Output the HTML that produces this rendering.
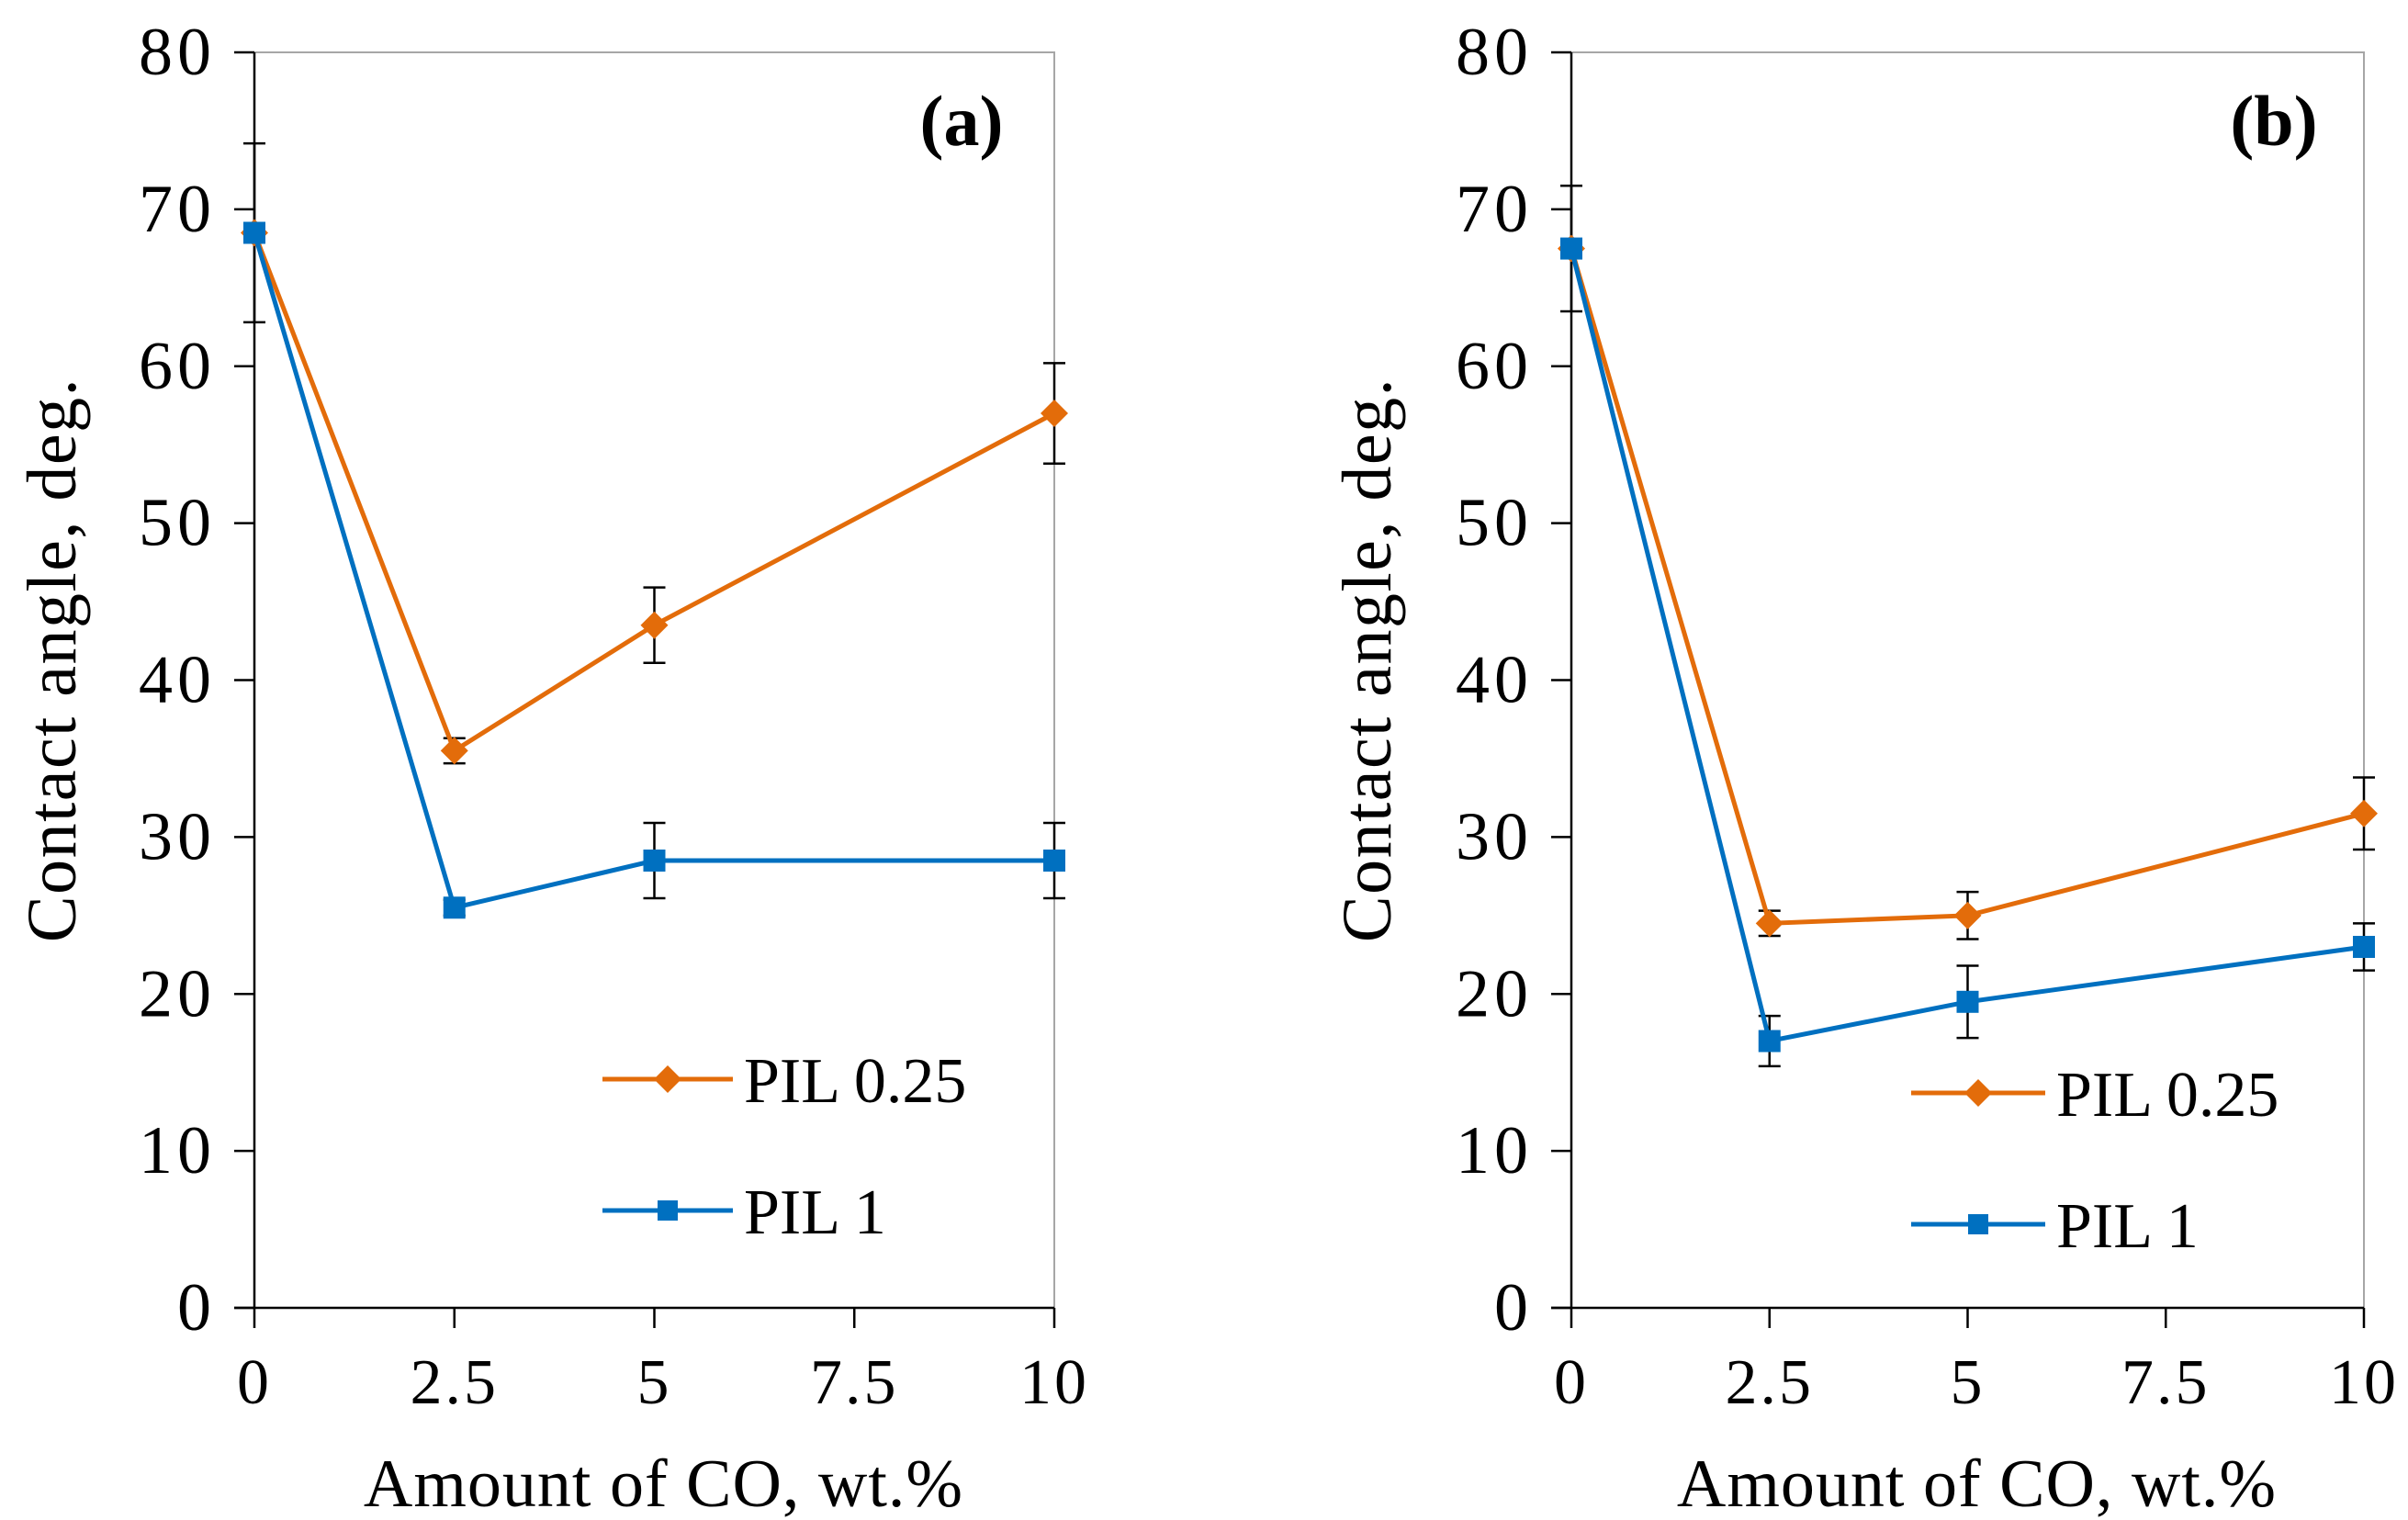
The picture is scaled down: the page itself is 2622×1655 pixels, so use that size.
<!DOCTYPE html>
<html><head><meta charset="utf-8"><style>
html,body{margin:0;padding:0;background:#fff;}
svg{display:block;font-family:"Liberation Serif",serif;}
</style></head><body>
<svg id="chart" width="2622" height="1655" viewBox="0 0 2622 1655" xmlns="http://www.w3.org/2000/svg"></svg>
<script>
const xTicks = [0, 2.5, 5, 7.5, 10];
const xTickLabels = ["0", "2.5", "5", "7.5", "10"];
const yTicks = [0, 10, 20, 30, 40, 50, 60, 70, 80];
const xValues = [0, 2.5, 5, 10];
const aPil025 = [68.5, 35.5, 43.5, 57];
const aPil025Err = [5.7, 0.8, 2.4, 3.2];
const aPil1 = [68.5, 25.5, 28.5, 28.5];
const aPil1Err = [0.5, 0.5, 2.4, 2.4];
const bPil025 = [67.5, 24.5, 25, 31.5];
const bPil025Err = [4, 0.8, 1.5, 2.3];
const bPil1 = [67.5, 17, 19.5, 23];
const bPil1Err = [0.5, 1.6, 2.3, 1.5];
const seriesNames = ["PIL 0.25", "PIL 1"];

const NS = "http://www.w3.org/2000/svg";
const svg = document.getElementById("chart");
function mk(tag, attrs, parent, text) {
  const e = document.createElementNS(NS, tag);
  for (const k in attrs) e.setAttribute(k, attrs[k]);
  if (text !== undefined) e.textContent = text;
  (parent || svg).appendChild(e);
  return e;
}
const ORANGE = "#E36C0A", BLUE = "#0070C0";

function panel(p) {
  const g = mk("g", {});
  
  
  const x = v => p.x0 + (p.x1 - p.x0) * v / 10;
  const y = v => 1424 - (1424 - 57) * v / 80;
  const fr = mk("path", {d: `M${x(0)} ${y(80)} H${x(10)} V${y(0)}`, stroke: "#a6a6a6", "stroke-width": 2, fill: "none"}, g);
  
  
  const ya = mk("g", {}, g);
  
  
  mk("line", {x1: x(0), y1: y(0), x2: x(0), y2: y(80), stroke: "#000", "stroke-width": 2.5}, ya);
  yTicks.forEach(t => {
    mk("line", {x1: x(0) - 22, y1: y(t), x2: x(0), y2: y(t), stroke: "#000", "stroke-width": 2.5}, ya);
    const tl = mk("text", {x: x(0) - 42, y: y(t) + 24, "text-anchor": "end", "font-size": 74, "letter-spacing": 5, fill: "#000"}, ya, String(t));
    
    
  });
  const xa = mk("g", {}, g);
  
  
  mk("line", {x1: x(0) - 22, y1: y(0), x2: x(10), y2: y(0), stroke: "#000", "stroke-width": 2.5}, xa);
  xTicks.forEach((t, i) => {
    mk("line", {x1: x(t), y1: y(0), x2: x(t), y2: y(0) + 22, stroke: "#000", "stroke-width": 2.5}, xa);
    const tl = mk("text", {x: x(t), y: 1528, "text-anchor": "middle", "font-size": 70, "letter-spacing": 3, fill: "#000"}, xa, xTickLabels[i]);
    
    
  });
  const xt = mk("text", {x: (x(0) + x(10)) / 2 + 10, y: 1640, "text-anchor": "middle", "font-size": 74, "letter-spacing": 1, fill: "#000"}, g, "Amount of CO, wt.%");
  
  
  const yt = mk("text", {x: 0, y: 0, "text-anchor": "middle", "font-size": 76, "letter-spacing": 1.5, fill: "#000", transform: `translate(${p.ytx},${(y(0) + y(80)) / 2 - 22}) rotate(-90)`}, g, "Contact angle, deg.");
  
  
  const pl = mk("text", {x: p.labelX, y: 158, "text-anchor": "middle", "font-size": 78, "font-weight": "bold", fill: "#000"}, g, "(" + p.id + ")");
  
  

  function series(vals, errs, color, shape, name) {
    const sg = mk("g", {}, g);
    
    
    vals.forEach((v, i) => {
      const cx = x(xValues[i]);
      const eb = mk("path", {d: `M${cx} ${y(v - errs[i])} V${y(v + errs[i])} M${cx - 12} ${y(v - errs[i])} H${cx + 12} M${cx - 12} ${y(v + errs[i])} H${cx + 12}`, stroke: "#000", "stroke-width": 2.5, fill: "none"}, sg);
      
      
    });
    const ln = mk("polyline", {points: vals.map((v, i) => x(xValues[i]) + "," + y(v)).join(" "), stroke: color, "stroke-width": 5, fill: "none"}, sg);
    
    
    vals.forEach((v, i) => {
      const cx = x(xValues[i]), cy = y(v);
      let m;
      if (shape === "d") m = mk("polygon", {points: `${cx},${cy - 15} ${cx + 15},${cy} ${cx},${cy + 15} ${cx - 15},${cy}`, fill: color}, sg);
      else m = mk("rect", {x: cx - 12, y: cy - 12, width: 24, height: 24, fill: color}, sg);
      
      
    });
  }
  series(p.o, p.oe, ORANGE, "d", "pil-0-25");
  series(p.b, p.be, BLUE, "s", "pil-1");

  const lg = mk("g", {}, g);
  
  
  [[ORANGE, "d", p.legY], [BLUE, "s", p.legY + 143]].forEach((c, i) => {
    const eg = mk("g", {}, lg);
    
    
    const ly = c[2], cx = (p.legX0 + p.legX1) / 2;
    mk("line", {x1: p.legX0, y1: ly, x2: p.legX1, y2: ly, stroke: c[0], "stroke-width": 5}, eg);
    if (c[1] === "d") mk("polygon", {points: `${cx},${ly - 15} ${cx + 15},${ly} ${cx},${ly + 15} ${cx - 15},${ly}`, fill: c[0]}, eg);
    else mk("rect", {x: cx - 11, y: ly - 11, width: 22, height: 22, fill: c[0]}, eg);
    mk("text", {x: p.legX1 + 12, y: ly + 25, "font-size": 70, fill: "#000"}, eg, seriesNames[i]);
  });
}

panel({id: "a", x0: 277, x1: 1148, ytx: 82, labelX: 1047, o: aPil025, oe: aPil025Err, b: aPil1, be: aPil1Err, legX0: 656, legX1: 798, legY: 1175});
panel({id: "b", x0: 1711, x1: 2574, ytx: 1514, labelX: 2476, o: bPil025, oe: bPil025Err, b: bPil1, be: bPil1Err, legX0: 2081, legX1: 2227, legY: 1190});
</script>
</body></html>
